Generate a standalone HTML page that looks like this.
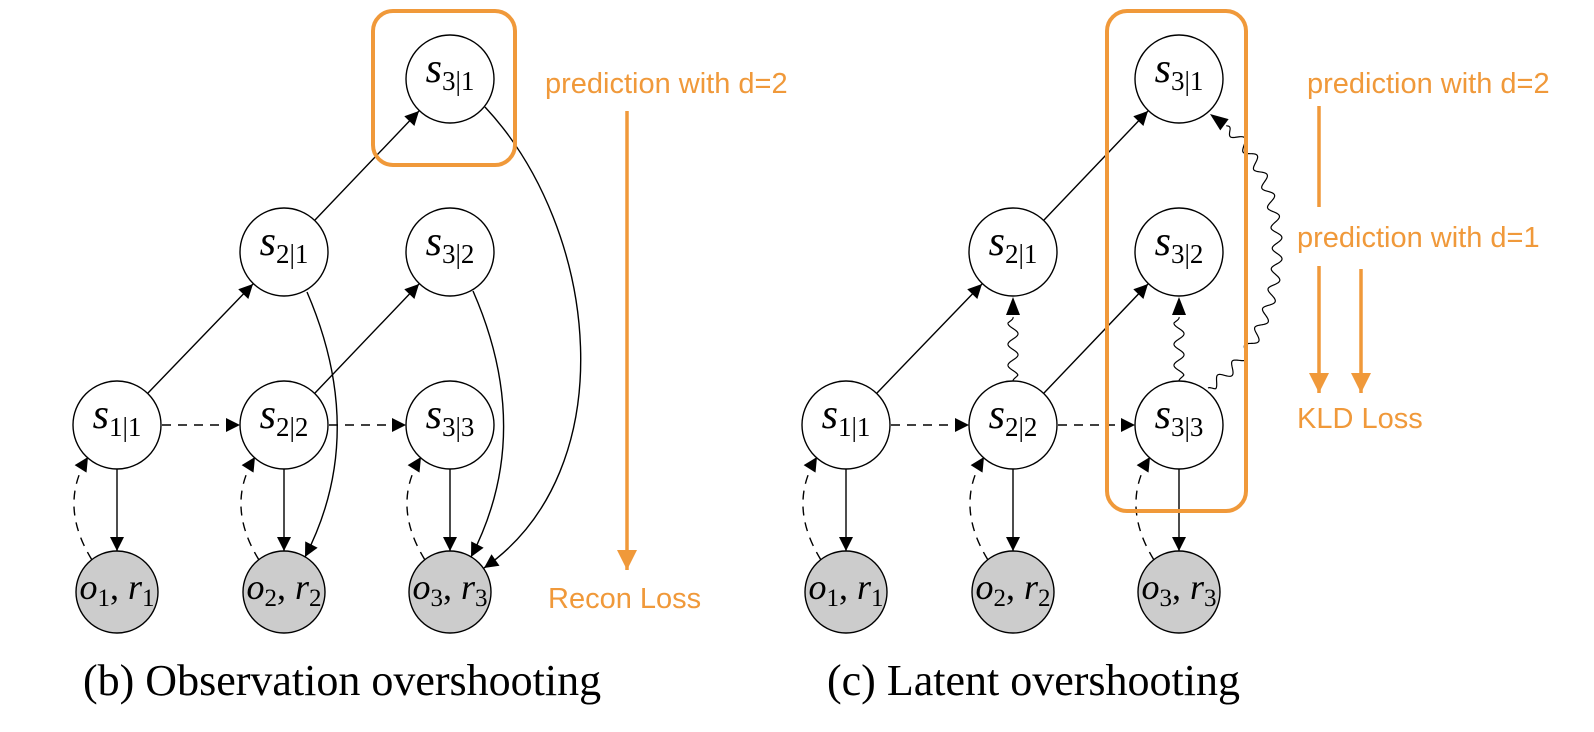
<!DOCTYPE html>
<html><head><meta charset="utf-8"><style>
html,body{margin:0;padding:0;background:#fff;}
svg{display:block;}
.or{font-family:"Liberation Sans",sans-serif;font-size:29px;fill:#F0993A;}
.cap{font-family:"Liberation Serif",serif;font-size:44px;fill:#000;}
.mt{font-family:"Liberation Serif",serif;}
</style></head><body>
<svg width="1594" height="732" viewBox="0 0 1594 732" xmlns="http://www.w3.org/2000/svg">
<defs>
<marker id="a" viewBox="0 0 10 10" refX="10" refY="5" markerWidth="18" markerHeight="14" markerUnits="userSpaceOnUse" orient="auto"><path d="M0,0 L10,5 L0,10z" fill="#000"/></marker>
<marker id="oa" viewBox="0 0 10 10" refX="10" refY="5" markerWidth="20" markerHeight="20" markerUnits="userSpaceOnUse" orient="auto"><path d="M0,0 L10,5 L0,10z" fill="#F0993A"/></marker>
<g id="base" fill="none" stroke="#000" stroke-width="1.4">
  <path d="M148,393 L253,284" marker-end="url(#a)"/>
  <path d="M315,220 L419,111" marker-end="url(#a)"/>
  <path d="M315,393 L419,284" marker-end="url(#a)"/>
  <path d="M162,425 L240,425" stroke-dasharray="9,7" marker-end="url(#a)"/>
  <path d="M329,425 L406,425" stroke-dasharray="9,7" marker-end="url(#a)"/>
  <path d="M117,469 L117,551" marker-end="url(#a)"/>
  <path d="M284,469 L284,551" marker-end="url(#a)"/>
  <path d="M450,469 L450,551" marker-end="url(#a)"/>
  <path d="M92,560 Q58,505 88,457" stroke-dasharray="9,7" marker-end="url(#a)"/>
  <path d="M259,560 Q225,505 255,457" stroke-dasharray="9,7" marker-end="url(#a)"/>
  <path d="M425,560 Q391,505 421,457" stroke-dasharray="9,7" marker-end="url(#a)"/>
  <g fill="#fff">
    <circle cx="117" cy="425" r="44"/>
    <circle cx="284" cy="425" r="44"/>
    <circle cx="450" cy="425" r="44"/>
    <circle cx="284" cy="252" r="44"/>
    <circle cx="450" cy="252" r="44"/>
    <circle cx="450" cy="79" r="44"/>
  </g>
  <g fill="#cccccc">
    <circle cx="117" cy="592" r="41"/>
    <circle cx="284" cy="592" r="41"/>
    <circle cx="450" cy="592" r="41"/>
  </g>
  <g class="mt" fill="#000" stroke="none" text-anchor="middle">
    <text x="117" y="428"><tspan font-style="italic" font-size="42">s</tspan><tspan font-size="27" dy="8">1|1</tspan></text>
    <text x="284" y="428"><tspan font-style="italic" font-size="42">s</tspan><tspan font-size="27" dy="8">2|2</tspan></text>
    <text x="450" y="428"><tspan font-style="italic" font-size="42">s</tspan><tspan font-size="27" dy="8">3|3</tspan></text>
    <text x="284" y="255"><tspan font-style="italic" font-size="42">s</tspan><tspan font-size="27" dy="8">2|1</tspan></text>
    <text x="450" y="255"><tspan font-style="italic" font-size="42">s</tspan><tspan font-size="27" dy="8">3|2</tspan></text>
    <text x="450" y="82"><tspan font-style="italic" font-size="42">s</tspan><tspan font-size="27" dy="8">3|1</tspan></text>
    <text x="117" y="599"><tspan font-style="italic" font-size="36">o</tspan><tspan font-size="25" dy="7">1</tspan><tspan font-size="36" dy="-7">, </tspan><tspan font-style="italic" font-size="36">r</tspan><tspan font-size="25" dy="7">1</tspan></text>
    <text x="284" y="599"><tspan font-style="italic" font-size="36">o</tspan><tspan font-size="25" dy="7">2</tspan><tspan font-size="36" dy="-7">, </tspan><tspan font-style="italic" font-size="36">r</tspan><tspan font-size="25" dy="7">2</tspan></text>
    <text x="450" y="599"><tspan font-style="italic" font-size="36">o</tspan><tspan font-size="25" dy="7">3</tspan><tspan font-size="36" dy="-7">, </tspan><tspan font-style="italic" font-size="36">r</tspan><tspan font-size="25" dy="7">3</tspan></text>
  </g>
</g>
</defs>

<use href="#base"/>
<g fill="none" stroke="#000" stroke-width="1.4">
  <path d="M307,292 C345,380 350,470 305,557" marker-end="url(#a)"/>
  <path d="M473,291 C512,380 516,470 471,557" marker-end="url(#a)"/>
  <path d="M485,107 C600,230 625,470 484,568" marker-end="url(#a)"/>
</g>
<rect x="373" y="11" width="142" height="154" rx="20" ry="20" fill="none" stroke="#F0993A" stroke-width="4"/>
<text class="or" x="545" y="93">prediction with d=2</text>
<path d="M627,111 L627,570" stroke="#F0993A" stroke-width="3.5" marker-end="url(#oa)"/>
<text class="or" x="548" y="608">Recon Loss</text>
<text class="cap" x="83" y="695">(b) Observation overshooting</text>

<g transform="translate(729,0)"><use href="#base"/></g>
<g id="wavy" fill="none" stroke="#000" stroke-width="1.2">
  <path id="w1" d="M1013,381 L1013,297"/>
  <path id="w2" d="M1179,381 L1179,297"/>
  <path id="w3" d="M1208,388 C1300,330 1300,170 1210,114"/>
</g>
<g id="wheads" fill="#000"></g>
<rect x="1107" y="11" width="139" height="500" rx="20" ry="20" fill="none" stroke="#F0993A" stroke-width="4"/>
<text class="or" x="1307" y="93">prediction with d=2</text>
<path d="M1319,106 L1319,207" stroke="#F0993A" stroke-width="3.5"/>
<text class="or" x="1297" y="247">prediction with d=1</text>
<path d="M1319,266 L1319,393" stroke="#F0993A" stroke-width="3.5" marker-end="url(#oa)"/>
<path d="M1361,269 L1361,393" stroke="#F0993A" stroke-width="3.5" marker-end="url(#oa)"/>
<text class="or" x="1297" y="428">KLD Loss</text>
<text class="cap" x="827" y="695">(c) Latent overshooting</text>

<script>
(function(){
 function bez(p,t){var u=1-t;return [u*u*u*p[0][0]+3*u*u*t*p[1][0]+3*u*t*t*p[2][0]+t*t*t*p[3][0],
   u*u*u*p[0][1]+3*u*u*t*p[1][1]+3*u*t*t*p[2][1]+t*t*t*p[3][1]];}
 function wave(id,p,amp,lam,head){
   var N=600,pts=[],L=[0];
   for(var i=0;i<=N;i++){pts.push(bez(p,i/N));if(i>0){var dx=pts[i][0]-pts[i-1][0],dy=pts[i][1]-pts[i-1][1];L.push(L[i-1]+Math.sqrt(dx*dx+dy*dy));}}
   var tot=L[N],stop=tot-head-2,d="",last=0;
   for(var i=0;i<=N;i++){
     if(L[i]>stop)break;last=i;
     var a=Math.max(0,i-1),b=Math.min(N,i+1);
     var tx=pts[b][0]-pts[a][0],ty=pts[b][1]-pts[a][1],tl=Math.sqrt(tx*tx+ty*ty);tx/=tl;ty/=tl;
     var s=L[i],env=Math.min(1,s/6,(stop-s)/6);
     var off=amp*env*Math.sin(2*Math.PI*s/lam);
     var x=pts[i][0]-ty*off,y=pts[i][1]+tx*off;
     d+=(i?"L":"M")+x.toFixed(2)+","+y.toFixed(2);
   }
   var tip=pts[N];
   var bx=pts[last][0],by=pts[last][1];
   d+="L"+bx.toFixed(2)+","+by.toFixed(2);
   document.getElementById(id).setAttribute("d",d);
   var tx=tip[0]-bx,ty=tip[1]-by,tl=Math.sqrt(tx*tx+ty*ty);tx/=tl;ty/=tl;
   var hb=[tip[0]-tx*18,tip[1]-ty*18],w=7;
   var poly=document.createElementNS("http://www.w3.org/2000/svg","polygon");
   poly.setAttribute("points",tip[0]+","+tip[1]+" "+(hb[0]-ty*w)+","+(hb[1]+tx*w)+" "+(hb[0]+ty*w)+","+(hb[1]-tx*w));
   document.getElementById("wheads").appendChild(poly);
 }
 function line(a,b){return [a,[a[0]+(b[0]-a[0])/3,a[1]+(b[1]-a[1])/3],[a[0]+2*(b[0]-a[0])/3,a[1]+2*(b[1]-a[1])/3],b];}
 wave("w1",line([1013,381],[1013,297]),5,21,18);
 wave("w2",line([1179,381],[1179,297]),5,21,18);
 wave("w3",[[1208,388],[1300,330],[1300,170],[1210,114]],5,21,18);
})();
</script>
</svg>
</body></html>
